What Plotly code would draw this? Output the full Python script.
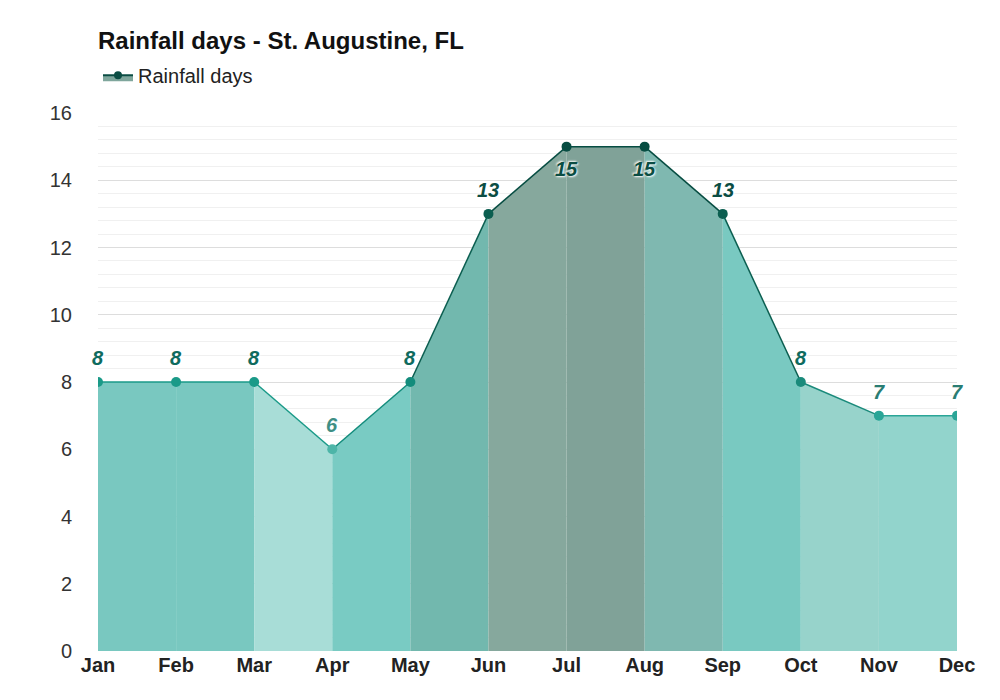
import plotly.graph_objects as go

months = ["Jan","Feb","Mar","Apr","May","Jun","Jul","Aug","Sep","Oct","Nov","Dec"]
rain_days = [8, 8, 8, 6, 8, 13, 15, 15, 13, 8, 7, 7]
seg_fill = ["#79c8c0","#79c8c0","#a8ddd7","#79cbc3","#72b8ae","#86a89d",
            "#80a298","#7fb8b0","#79c9c1","#97d3cb","#92d4cc"]
pt_color = ["#1a9a88","#1a9a88","#1a9a88","#4db5a8","#138c7c","#0b5e50",
            "#074d42","#074d42","#0b5e50","#1a8a7b","#2aa597","#2aa597"]
label_color = ["#0f6b5e","#0f6b5e","#0f6b5e","#3f8f85","#0f6b5e","#0b4d43",
               "#0b4d43","#0b4d43","#0b4d43","#0f6b5e","#2a7d73","#2a7d73"]

fig = go.Figure()
for i in range(len(months) - 1):
    lc = pt_color[i] if rain_days[i] >= rain_days[i+1] else pt_color[i+1]
    fig.add_trace(go.Scatter(
        x=[i, i+1], y=[rain_days[i], rain_days[i+1]], mode="lines",
        fill="tozeroy", fillcolor=seg_fill[i], line=dict(color=lc, width=1.5),
        showlegend=False, hoverinfo="skip"))
fig.add_trace(go.Scatter(
    x=list(range(len(months))), y=rain_days, mode="markers",
    marker=dict(color=pt_color, size=10), showlegend=False))
fig.add_trace(go.Scatter(
    x=[None], y=[None], mode="lines+markers", name="Rainfall days",
    fill="tozeroy", fillcolor="#7fa69c", line=dict(color="#0b4d43", width=2),
    marker=dict(color="#0b4d43", size=8)))

for i, v in enumerate(rain_days):
    inside = v == 15
    fig.add_annotation(
        x=i, y=v, text=f"<b><i>{v}</i></b>", showarrow=False,
        yshift=-22 if inside else 24,
        font=dict(size=20, color=label_color[i], family="Liberation Sans",
                  shadow="1px 1px 2px white, -1px -1px 2px white"))

fig.update_layout(
    width=1000, height=700, plot_bgcolor="white", paper_bgcolor="white",
    margin=dict(l=90, r=51, t=105, b=57),
    font=dict(family="Liberation Sans", size=20, color="#333"),
    title=dict(text="<b>Rainfall days - St. Augustine, FL</b>", x=0.09, xanchor="left",
               y=0.953, yanchor="middle", font=dict(size=24, color="#111")),
    legend=dict(x=-0.0, y=1.07, xanchor="left", yanchor="middle", orientation="h",
                font=dict(size=20, color="#222"), bgcolor="rgba(0,0,0,0)"),
    xaxis=dict(range=[0, 11], tickmode="array", tickvals=list(range(12)),
               ticktext=[f"<b>{m}</b>" for m in months], showgrid=False,
               tickfont=dict(size=20, color="#222"), zeroline=False),
    yaxis=dict(range=[0, 16], dtick=2, gridcolor="#dddddd", zeroline=False,
               ticks="", ticklabelstandoff=25, tickfont=dict(size=20, color="#333"),
               minor=dict(dtick=0.4, showgrid=True, gridcolor="#f0f0f0")),
)
fig.write_html("out.html")
